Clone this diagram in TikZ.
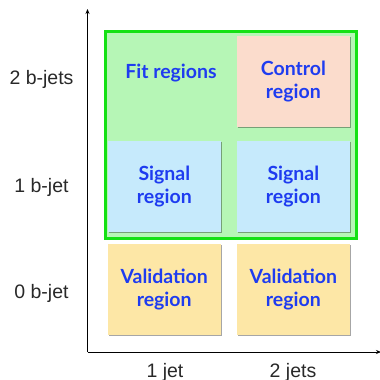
\documentclass[tikz,border=0pt]{standalone}
\usepackage{fontspec}
\setmainfont{Liberation Sans}
\newfontfamily\boxfont{Lato}
\usetikzlibrary{shadows,arrows.meta}
\definecolor{txtblue}{RGB}{30,60,240}
\definecolor{fitfill}{RGB}{182,246,182}
\definecolor{fitline}{RGB}{20,225,20}
\definecolor{ctrlfill}{RGB}{251,220,204}
\definecolor{sigfill}{RGB}{198,234,252}
\definecolor{valfill}{RGB}{253,231,166}
\definecolor{axtxt}{RGB}{40,40,40}
\tikzset{
  boxtext/.style={font=\boxfont\bfseries\fontsize{19.5}{23}\selectfont, text=txtblue, align=center},
  regbox/.style={boxtext, minimum width=113pt, minimum height=91pt, inner sep=0pt, anchor=north west,
    drop shadow={shadow xshift=0.8pt, shadow yshift=-0.9pt, opacity=0.35, fill=black}},
  axlabel/.style={font=\fontsize{19.5}{22}\selectfont, text=axtxt},
}
\begin{document}
\begin{tikzpicture}[x=1pt,y=-1pt]
\useasboundingbox (0,0) rectangle (380,380);
% fit region
\node[draw=fitline, line width=3pt, fill=fitfill, minimum width=251pt, minimum height=207pt, inner sep=0pt, anchor=north west] (fit) at (104.2,29.5) {};
\node[boxtext] (fitlbl) at (171,73) {Fit regions};
% boxes
\node[regbox, fill=ctrlfill] (ctrl) at (236.7,36) {Control\\region};
\node[regbox, fill=sigfill] (sig1) at (107.7,141) {Signal\\region};
\node[regbox, fill=sigfill] (sig2) at (236.7,141) {Signal\\region};
\node[regbox, fill=valfill] (val1) at (107.5,244) {Validation\\region};
\node[regbox, fill=valfill] (val2) at (236.7,244) {Validation\\region};
% axes
\coordinate (origin) at (87.5,352);
\coordinate (ytop) at (87.5,9);
\coordinate (xend) at (381,352);
\draw[line width=0.9pt, -{Stealth[length=5pt,width=4pt]}] (origin) -- (ytop);
\draw[line width=0.9pt, -{Stealth[length=5pt,width=4pt]}] (origin) -- (xend);
% axis labels
\node[axlabel] (l2b) at (41.5,79) {2 b-jets};
\node[axlabel] (l1b) at (41.5,187) {1 b-jet};
\node[axlabel] (l0b) at (41.5,293) {0 b-jet};
\node[axlabel] (l1j) at (165,372) {1 jet};
\node[axlabel] (l2j) at (293,372) {2 jets};
\end{tikzpicture}
\end{document}
